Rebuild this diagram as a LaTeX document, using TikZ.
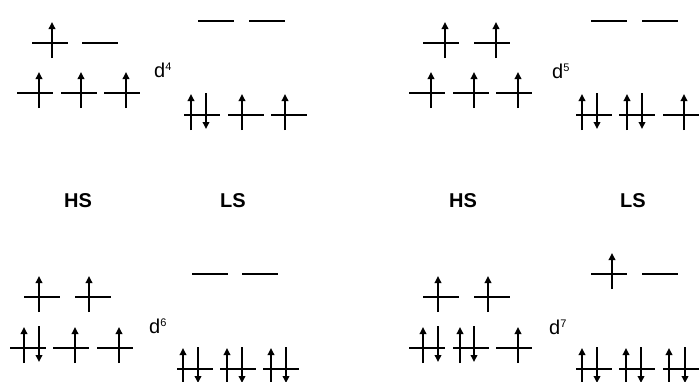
\documentclass[tikz,border=0pt]{standalone}
\usepackage{fontspec}
\setmainfont{Liberation Sans}
\usetikzlibrary{arrows.meta}
\tikzset{
  level/.style={line width=2.5pt},
  spin/.style={line width=2.2pt,-{Triangle[length=7pt,width=6.5pt]}},
  lab/.style={font=\fontsize{20}{22}\selectfont\bfseries,inner sep=0pt},
  dlab/.style={font=\fontsize{20}{22}\selectfont,inner sep=0pt,anchor=base west}
}
\newcommand\lvl[2]{\draw[level] (#1,#2) -- ++(36,0);}
\newcommand\spu[2]{\draw[spin] (#1,#2+15) -- (#1,#2-21);}
\newcommand\spd[2]{\draw[spin] (#1,#2-22) -- (#1,#2+14);}
\newcommand\dsup[1]{\raisebox{6.5pt}{\fontsize{11}{11}\selectfont #1}}
\begin{document}
\begin{tikzpicture}[x=1pt,y=-1pt]
\useasboundingbox (0,0) rectangle (700,381);
% ---------- d4 ----------
\lvl{32}{43}\lvl{82}{43}\spu{52}{43}
\lvl{17}{93}\lvl{61}{93}\lvl{104}{93}
\spu{39}{93}\spu{81}{93}\spu{126}{93}
\lvl{198}{21}\lvl{249}{21}
\lvl{184}{115}\lvl{228}{115}\lvl{271}{115}
\spu{191}{115}\spd{206}{115}\spu{242}{115}\spu{285}{115}
\node[dlab] (d4) at (154,77) {d\dsup{4}};
% ---------- d5 ----------
\lvl{423}{43}\lvl{474}{43}\spu{445}{43}\spu{496}{43}
\lvl{409}{93}\lvl{453}{93}\lvl{496}{93}
\spu{431}{93}\spu{474}{93}\spu{518}{93}
\lvl{591}{21}\lvl{642}{21}
\lvl{576}{115}\lvl{619}{115}\lvl{663}{115}
\spu{582}{115}\spd{597}{115}\spu{627}{115}\spd{642}{115}\spu{684}{115}
\node[dlab] (d5) at (552,78) {d\dsup{5}};
% ---------- labels ----------
\node[lab] (hs1) at (78,201) {HS};
\node[lab] (ls1) at (233,201) {LS};
\node[lab] (hs2) at (463,201) {HS};
\node[lab] (ls2) at (633,201) {LS};
% ---------- d6 ----------
\lvl{24}{297}\lvl{75}{297}\spu{39}{297}\spu{89}{297}
\lvl{10}{348}\lvl{53}{348}\lvl{97}{348}
\spu{24}{348}\spd{39}{348}\spu{75}{348}\spu{119}{348}
\lvl{192}{274}\lvl{242}{274}
\lvl{177}{369}\lvl{220}{369}\lvl{263}{369}
\spu{183}{369}\spd{198}{369}\spu{227}{369}\spd{242}{369}\spu{271}{369}\spd{286}{369}
\node[dlab] (d6) at (149,333) {d\dsup{6}};
% ---------- d7 ----------
\lvl{423}{297}\lvl{474}{297}\spu{438}{297}\spu{488}{297}
\lvl{409}{348}\lvl{453}{348}\lvl{496}{348}
\spu{423}{348}\spd{438}{348}\spu{460}{348}\spd{474}{348}\spu{518}{348}
\lvl{591}{274}\lvl{642}{274}\spu{612}{274}
\lvl{576}{369}\lvl{619}{369}\lvl{663}{369}
\spu{582}{369}\spd{597}{369}\spu{626}{369}\spd{641}{369}\spu{669}{369}\spd{685}{369}
\node[dlab] (d7) at (549,334) {d\dsup{7}};
\end{tikzpicture}
\end{document}
